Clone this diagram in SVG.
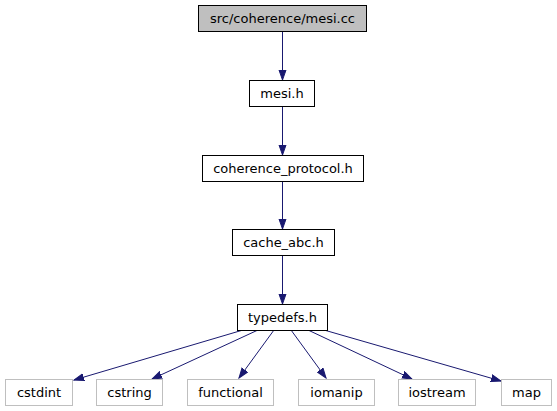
<svg xmlns="http://www.w3.org/2000/svg" width="557" height="411" viewBox="0 0 557 411">
<style>
text{font-family:"DejaVu Sans","Liberation Sans",sans-serif;font-size:13px;fill:#000;text-anchor:middle}
.n rect{fill:#fff;stroke:#000;stroke-width:1}
.ext rect{fill:#fff;stroke:#bfbfbf;stroke-width:1}
.root rect{fill:#bfbfbf;stroke:#000;stroke-width:1}
.e{stroke:#191970;stroke-width:1;fill:none;marker-end:url(#ah)}
</style>
<defs>
<marker id="ah" markerUnits="userSpaceOnUse" markerWidth="11" markerHeight="9" refX="10" refY="4" orient="auto">
<path d="M0,0.5 L10,4 L0,7.5 Z" fill="#191970" stroke="#191970"/>
</marker>
</defs>
<rect width="557" height="411" fill="#fff"/>
<g id="edges">
<path class="e" d="M282.5,32 L282.5,80"/>
<path class="e" d="M282.5,106 L282.5,155"/>
<path class="e" d="M282.5,181 L282.5,229"/>
<path class="e" d="M282.5,255 L282.5,304"/>
<path class="e" d="M243,330 L74,380"/>
<path class="e" d="M258,330 L152,379"/>
<path class="e" d="M274,330 L239,378"/>
<path class="e" d="M291,330 L326,378"/>
<path class="e" d="M308,330 L412,379"/>
<path class="e" d="M324,330 L501,381"/>
</g>
<g id="node-mesi-cc" class="root"><rect x="198.5" y="5.5" width="168" height="26"/><text x="282.5" y="23">src/coherence/mesi.cc</text></g>
<g id="node-mesi-h" class="n"><rect x="249.5" y="80.5" width="65" height="26"/><text x="282" y="98">mesi.h</text></g>
<g id="node-coherence-protocol" class="n"><rect x="202.5" y="155.5" width="161" height="26"/><text x="283" y="173">coherence_protocol.h</text></g>
<g id="node-cache-abc" class="n"><rect x="232.5" y="229.5" width="102" height="26"/><text x="283.5" y="247">cache_abc.h</text></g>
<g id="node-typedefs" class="n"><rect x="237.5" y="304.5" width="90" height="26"/><text x="282.5" y="322">typedefs.h</text></g>
<g id="node-cstdint" class="ext"><rect x="5.5" y="379.5" width="67" height="26"/><text x="39" y="397">cstdint</text></g>
<g id="node-cstring" class="ext"><rect x="96.5" y="379.5" width="66" height="26"/><text x="129.5" y="397">cstring</text></g>
<g id="node-functional" class="ext"><rect x="187.5" y="379.5" width="86" height="26"/><text x="230.5" y="397">functional</text></g>
<g id="node-iomanip" class="ext"><rect x="298.5" y="379.5" width="76" height="26"/><text x="336.5" y="397">iomanip</text></g>
<g id="node-iostream" class="ext"><rect x="398.5" y="379.5" width="77" height="26"/><text x="437" y="397">iostream</text></g>
<g id="node-map" class="ext"><rect x="501.5" y="379.5" width="50" height="26"/><text x="526.5" y="397">map</text></g>
</svg>
